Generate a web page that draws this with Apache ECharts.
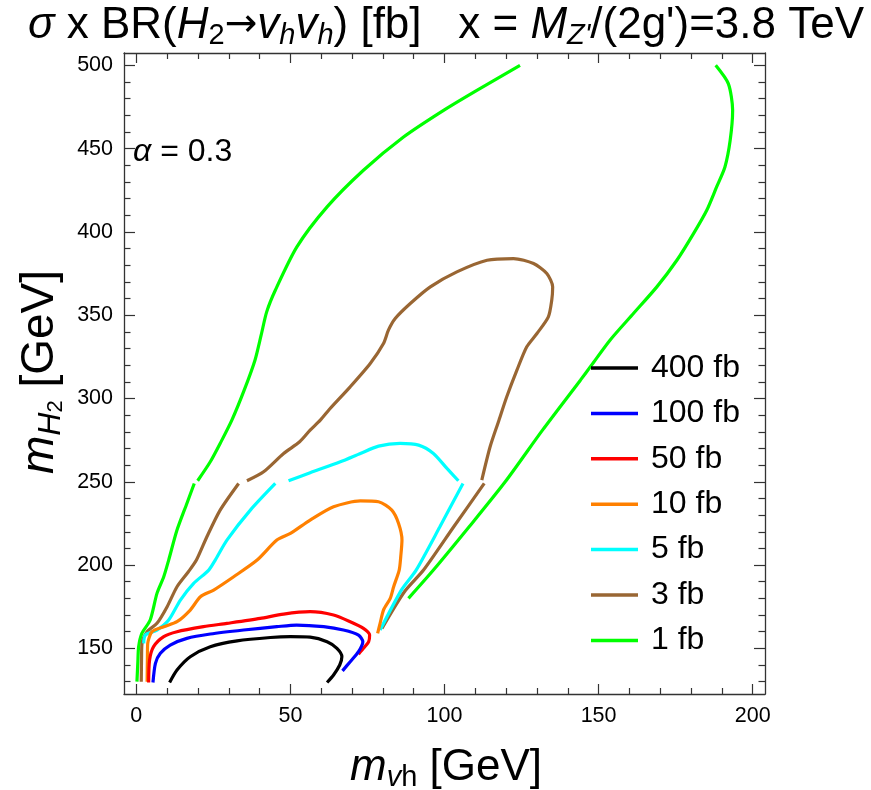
<!DOCTYPE html>
<html>
<head>
<meta charset="utf-8">
<script src="https://cdn.jsdelivr.net/npm/echarts@6/dist/echarts.min.js"></script>
<style>html,body{margin:0;padding:0;background:#fff;}#c{width:871px;height:790px;}</style>
</head>
<body>
<div id="c"></div>
<script>
// ---- tick values ----
const xTicks = [0, 50, 100, 150, 200];
const xMinorTicks = [10, 20, 30, 40, 60, 70, 80, 90, 110, 120, 130, 140, 160, 170, 180, 190];
const yTicks = [150, 200, 250, 300, 350, 400, 450, 500];
const yMinorTicks = [130, 140, 160, 170, 180, 190, 210, 220, 230, 240, 260, 270, 280, 290, 310, 320, 330, 340, 360, 370, 380, 390, 410, 420, 430, 440, 460, 470, 480, 490];

// ---- legend entries ----
const legendNames = ['400 fb', '100 fb', '50 fb', '10 fb', '5 fb', '3 fb', '1 fb'];

// ---- contour data [m_vh, m_H2] ----
const c400 = [[10.8,129.5],[13.2,137],[17.5,145],[24,151],[32.7,154.5],[43.5,156.5],[50,157],[56.4,156.7],[61.9,154],[65.1,150],[66.7,145],[66,140],[64,134],[61.9,129.5]];
const c100 = [[5.4,129.5],[6.2,141],[7.8,147],[11,152],[16.4,156],[24,158.6],[34.8,161],[45.6,163],[52,164],[60.8,163],[67.2,161],[72.1,158],[73.5,154],[72.1,148],[69.4,142],[66.9,136.5]];
const c50 = [[4,129.5],[4.3,143],[5.6,151],[8.9,157],[13.2,160],[21.8,163],[29.4,165],[40.2,168],[47.8,170.6],[56.4,172],[64,170],[69.4,166],[73.7,162],[75.7,158],[75.4,154],[73.7,150],[72.1,146.5]];
const c10 = [[3.5,130],[3.6,145],[3.7,153],[5.1,160],[8.9,163],[13.2,166],[17.5,173],[20.8,181],[25.1,185],[31.6,193],[39.2,203],[45.6,215],[50,219],[56.4,227],[64,235],[72.7,238.5],[78.6,238],[82.9,233],[85.1,225],[86.2,215],[85.8,205],[85.3,197],[83.5,187],[82.4,180],[80.2,173],[79.1,165],[78.3,159]];
const c5a = [[2.4,153],[2.9,158],[6.7,161],[10.5,167],[14.3,179],[18.6,189],[23.5,197],[25.6,203],[29.4,215],[37,233],[45.1,249]];
const c5b = [[49.4,250.6],[56.4,255.4],[66.2,262],[72.7,267],[78.6,271.4],[85.6,273],[91.6,272],[96.4,267],[100.8,258],[104.5,250.6]];
const c5c = [[106,249],[98.5,223],[90.8,197],[86,185],[79.1,161]];
const c3a = [[1.6,130],[1.7,145],[1.85,153],[3.5,160],[6.7,165],[10,175],[13.2,187],[16.9,196],[19.5,203],[22.9,217],[27.2,233],[33.2,249]];
const c3b = [[35.9,250.6],[41.3,256],[47.8,267],[53,274],[56.4,281],[59.7,287],[62.9,294],[69.4,307],[75.9,321],[80.2,333],[81.8,341],[84,348],[88.9,357],[95.4,367],[104,376],[113.8,383],[122.4,384],[128.9,381],[133.2,375],[135.1,367],[134.8,359],[133.7,349],[130,339],[126.7,331],[123.5,317],[120.2,301],[117.5,286],[114.8,271],[112.1,251]];
const c3c = [[112.9,249],[103,223],[93.2,197],[87,184],[79.7,162]];
const c1a = [[0.2,130],[0.5,142],[0.75,151],[1.8,159],[4.5,167],[6.7,183],[8.9,193],[10.5,203],[13.2,221],[16.4,237],[18.8,249]];
const c1b = [[19.9,250.6],[24,262],[27.2,273],[31,287],[35,305],[38.5,323],[40.5,338],[42.3,352],[45.1,365],[52.1,391],[61.9,415],[73.7,437],[86.7,457],[99.7,473],[110.5,485],[124.5,500]];
const c1c = [[188,500],[192.1,489],[193.5,473],[192.7,455],[191,439],[188.3,427],[185.1,413],[180.8,399],[175.4,383],[168.9,367],[161.3,351],[153.7,335],[147.7,320],[144.1,311],[131.8,281],[119.7,250],[108,223],[96.4,197],[88.3,180]];

const colors = {'400 fb':'#000000','100 fb':'#0000ff','50 fb':'#ff0000','10 fb':'#ff8000','5 fb':'#00ffff','3 fb':'#996633','1 fb':'#00ff00'};
const pieces = [
  ['1 fb', c1a], ['1 fb', c1b], ['1 fb', c1c],
  ['3 fb', c3a], ['3 fb', c3b], ['3 fb', c3c],
  ['5 fb', c5a], ['5 fb', c5b], ['5 fb', c5c],
  ['10 fb', c10], ['50 fb', c50], ['100 fb', c100], ['400 fb', c400]
];

const FAM = "'Liberation Sans', Arial, Helvetica, sans-serif";
const ARROW_FAM = "'DejaVu Sans', sans-serif";
const X_MIN = -4, X_MAX = 204, Y_MIN = 122.6, Y_MAX = 507.4;
const frameColor = '#333';

function xAx(pos, major) {
  return {
    type: 'value', min: X_MIN, max: X_MAX, position: pos,
    axisLine: {show: major, onZero: false, lineStyle: {color: frameColor, width: 1.3}},
    axisTick: {show: true, inside: true, length: major ? 10 : 6, customValues: major ? xTicks : xMinorTicks, lineStyle: {color: frameColor, width: 1.2}},
    axisLabel: {show: major && pos === 'bottom', customValues: xTicks, fontSize: 21.5, color: '#000', fontFamily: FAM, margin: 11},
    splitLine: {show: false}
  };
}
function yAx(pos, major) {
  return {
    type: 'value', min: Y_MIN, max: Y_MAX, position: pos,
    axisLine: {show: major, onZero: false, lineStyle: {color: frameColor, width: 1.3}},
    axisTick: {show: true, inside: true, length: major ? 11 : 6.5, customValues: major ? yTicks : yMinorTicks, lineStyle: {color: frameColor, width: 1.2}},
    axisLabel: {show: major && pos === 'left', customValues: yTicks, fontSize: 21.5, color: '#000', fontFamily: FAM, margin: 11},
    splitLine: {show: false}
  };
}

const series = pieces.map(([name, data]) => ({
  type: 'line', name: name, data: data, xAxisIndex: 0, yAxisIndex: 0,
  showSymbol: false, symbol: 'none', smooth: 0.25, color: colors[name],
  lineStyle: {color: colors[name], width: 3.2}, clip: true, silent: true
}));

const chart = echarts.init(document.getElementById('c'), null, {renderer: 'canvas'});
chart.setOption({
  animation: false,
  backgroundColor: '#fff',
  grid: {left: 124, right: 106, top: 53, bottom: 96, containLabel: false},
  xAxis: [xAx('bottom', true), xAx('bottom', false), xAx('top', true), xAx('top', false)],
  yAxis: [yAx('left', true), yAx('left', false), yAx('right', true), yAx('right', false)],
  legend: {
    orient: 'vertical', left: 586, top: 347, itemWidth: 47, itemHeight: 3.5, itemGap: 13.4,
    icon: 'rect', data: legendNames, selectedMode: false,
    textStyle: {fontSize: 32, lineHeight: 30, fontFamily: FAM, color: '#000', padding: [0, 0, 0, 8]}
  },
  graphic: [
    {type: 'text', x: 446, y: 26, style: {
      text: '{i|σ} x BR({i|H}{s|2}{a|→}{i|v}{si|h}{i|v}{si|h}) [fb]   x = {i|M}{si|Z\'}/(2g\')=3.8 TeV',
      align: 'center', verticalAlign: 'middle', fill: '#000', fontSize: 44, fontFamily: FAM, lineHeight: 48,
      rich: {
        i: {fontStyle: 'italic', fontSize: 44, fontFamily: FAM, lineHeight: 48},
        a: {fontSize: 39, fontFamily: ARROW_FAM, lineHeight: 48},
        s: {fontSize: 29, fontFamily: FAM, lineHeight: 29, verticalAlign: 'bottom'},
        si: {fontSize: 29, fontStyle: 'italic', fontFamily: FAM, lineHeight: 29, verticalAlign: 'bottom'}
      }
    }},
    {type: 'text', x: 446, y: 768, style: {
      text: '{i|m}{si|v}{s|h} [GeV]',
      align: 'center', verticalAlign: 'middle', fill: '#000', fontSize: 44, fontFamily: FAM, lineHeight: 48,
      rich: {
        i: {fontStyle: 'italic', fontSize: 44, fontFamily: FAM, lineHeight: 48},
        s: {fontSize: 29, fontFamily: FAM, lineHeight: 29, verticalAlign: 'bottom'},
        si: {fontSize: 29, fontStyle: 'italic', fontFamily: FAM, lineHeight: 29, verticalAlign: 'bottom'}
      }
    }},
    {type: 'text', x: 40, y: 372, rotation: Math.PI / 2, style: {
      text: '{i|m}{si|H}{ss|2} [GeV]',
      align: 'center', verticalAlign: 'middle', fill: '#000', fontSize: 46, fontFamily: FAM, lineHeight: 54,
      rich: {
        i: {fontStyle: 'italic', fontSize: 46, fontFamily: FAM, lineHeight: 54},
        si: {fontSize: 32, fontStyle: 'italic', fontFamily: FAM, lineHeight: 32, verticalAlign: 'bottom'},
        ss: {fontSize: 22, fontFamily: FAM, lineHeight: 12, verticalAlign: 'bottom'}
      }
    }},
    {type: 'text', x: 133, y: 152, style: {
      text: '{i|α} = 0.3',
      align: 'left', verticalAlign: 'middle', fill: '#000', fontSize: 32, fontFamily: FAM,
      rich: {i: {fontStyle: 'italic', fontSize: 32, fontFamily: FAM}}
    }}
  ],
  series: series
});
</script>
</body>
</html>
